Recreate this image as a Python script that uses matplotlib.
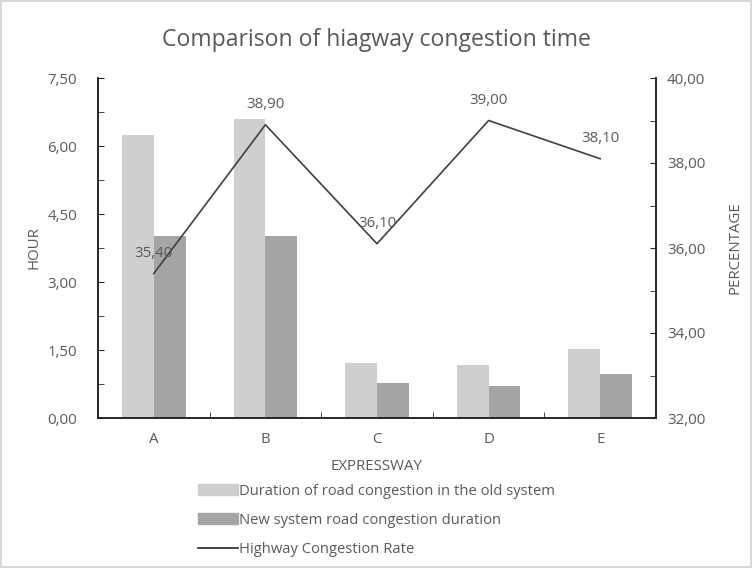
import matplotlib
matplotlib.use('Agg')
import matplotlib.pyplot as plt
from matplotlib.ticker import MultipleLocator, FuncFormatter
from matplotlib.patches import Patch
from matplotlib.lines import Line2D
import numpy as np

plt.rcParams['font.family'] = ['Open Sans', 'DejaVu Sans']

expressways = ['A', 'B', 'C', 'D', 'E']
old_hours = [6.24, 6.60, 1.21, 1.17, 1.52]
new_hours = [4.01, 4.01, 0.77, 0.71, 0.97]
congestion_rate = [35.40, 38.90, 36.10, 39.00, 38.10]

old_color = '#d0cece'
new_color = '#a5a5a5'
text_color = '#595959'
fs = 10.8


def comma_fmt(v, pos=None):
    return f'{v:.2f}'.replace('.', ',')


fig = plt.figure(figsize=(7.52, 5.68), dpi=100)
fig.patch.set_edgecolor('#d9d9d9')
fig.patch.set_linewidth(1.5)
ax = fig.add_axes([98 / 752, 1 - 418 / 568, 558 / 752, 340 / 568])
ax2 = ax.twinx()

x = np.arange(len(expressways))
w = 0.285
ax.bar(x - w / 2, old_hours, w, color=old_color)
ax.bar(x + w / 2, new_hours, w, color=new_color)

ax2.plot(x, congestion_rate, color='#404040', lw=1.2)
for xi, v in zip(x, congestion_rate):
    ax2.annotate(comma_fmt(v), (xi, v), xytext=(0, 9), textcoords='offset points',
                 ha='center', va='bottom', fontsize=fs, color=text_color)

ax.set_xlim(-0.5, len(expressways) - 0.5)
ax.set_ylim(0, 7.5)
ax2.set_ylim(32, 40)

ax.yaxis.set_major_locator(MultipleLocator(1.5))
ax.yaxis.set_minor_locator(MultipleLocator(0.75))
ax.yaxis.set_major_formatter(FuncFormatter(comma_fmt))
ax2.yaxis.set_major_locator(MultipleLocator(2))
ax2.yaxis.set_minor_locator(MultipleLocator(1))
ax2.yaxis.set_major_formatter(FuncFormatter(comma_fmt))

ax.set_xticks(x)
ax.set_xticklabels(expressways)
ax.set_xticks(np.arange(0.5, len(expressways) - 0.5), minor=True)
ax.tick_params(axis='x', which='major', length=0, pad=10, labelsize=fs, labelcolor=text_color)
ax.tick_params(axis='x', which='minor', direction='in', length=4, color='#262626')
ax.tick_params(axis='y', which='both', direction='in', length=4, pad=15,
               labelsize=fs, labelcolor=text_color, color='#262626')
ax2.tick_params(axis='y', which='both', direction='in', length=4, pad=8,
                labelsize=fs, labelcolor=text_color, color='#262626')

for a in (ax, ax2):
    a.spines['top'].set_visible(False)
    for s in ('left', 'right', 'bottom'):
        a.spines[s].set_color('#262626')
        a.spines[s].set_linewidth(1.2)

ax.set_xlabel('EXPRESSWAY', fontsize=fs, color=text_color, labelpad=9)
ax.set_ylabel('HOUR', fontsize=fs, color=text_color, labelpad=4)
ax2.set_ylabel('PERCENTAGE', fontsize=fs, color=text_color, labelpad=16)

fig.text(0.5, 1 - 40 / 568, 'Comparison of hiagway congestion time',
         ha='center', va='center', fontsize=16.6, color=text_color)

handles = [
    Patch(color=old_color, label='Duration of road congestion in the old system'),
    Patch(color=new_color, label='New system road congestion duration'),
    Line2D([], [], color='#262626', lw=1.2, label='Highway Congestion Rate'),
]
fig.legend(handles=handles, loc='upper left', bbox_to_anchor=(192 / 752, 1 - 478 / 568),
           frameon=False, fontsize=10.6, labelcolor=text_color, handlelength=2.7,
           handleheight=0.75, handletextpad=0.1, labelspacing=0.95, borderaxespad=0)

fig.savefig('out.png', dpi=100)
